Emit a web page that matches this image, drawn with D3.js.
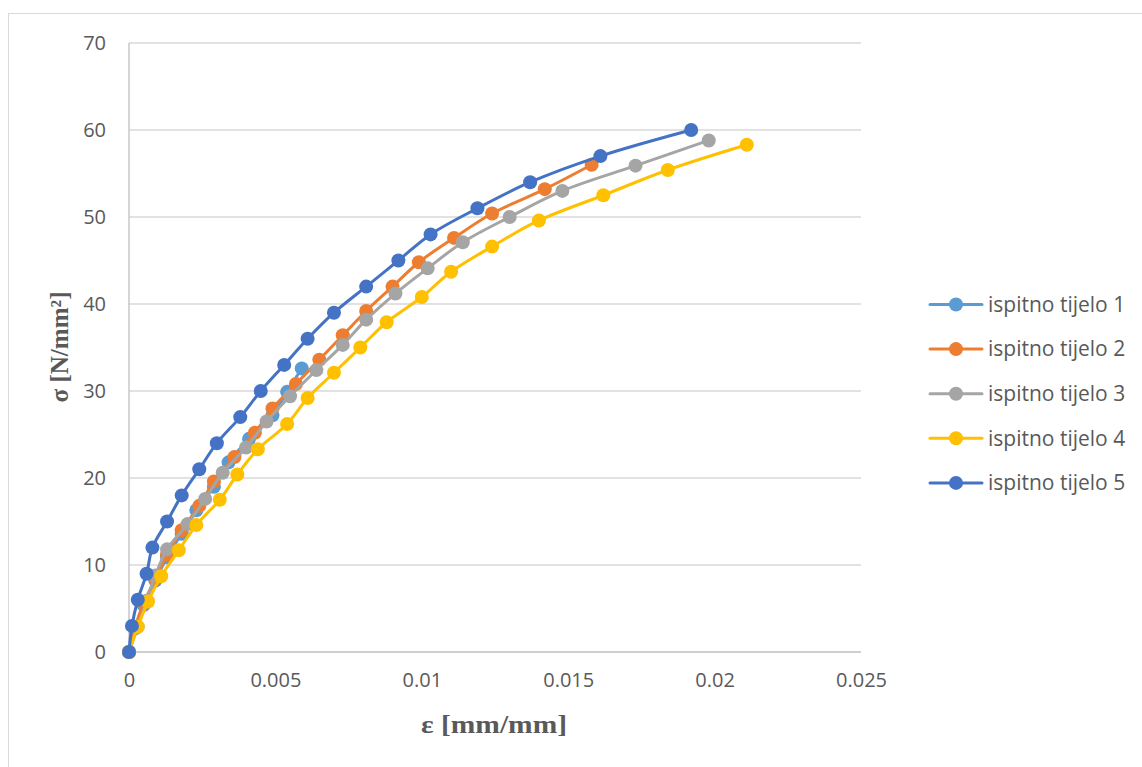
<!DOCTYPE html>
<html><head><meta charset="utf-8">
<script src="https://cdn.jsdelivr.net/npm/d3@7"></script>
<style>body{margin:0;background:#fff;} svg{display:block;}</style>
</head><body>
<svg id="chart" width="1142" height="767"></svg>
<script>
const seriesNames = ["ispitno tijelo 1","ispitno tijelo 2","ispitno tijelo 3","ispitno tijelo 4","ispitno tijelo 5"];
const seriesColors = ["#5B9BD5","#ED7D31","#A5A5A5","#FFC000","#4472C4"];

const strain1 = [0,0.0002,0.0005,0.0009,0.0013,0.0018,0.0023,0.0029,0.0034,0.0041,0.0049,0.0054,0.0059];
const stress1 = [0,2.7,5.4,8.2,10.9,13.6,16.3,19.0,21.8,24.5,27.2,29.9,32.6];

const strain2 = [0,0.0002,0.0005,0.0009,0.0013,0.0018,0.0024,0.0029,0.0036,0.0043,0.0049,0.0057,0.0065,0.0073,0.0081,0.009,0.0099,0.0111,0.0124,0.0142,0.0158];
const stress2 = [0,2.8,5.6,8.4,11.2,14.0,16.8,19.6,22.4,25.2,28.0,30.8,33.6,36.4,39.2,42.0,44.8,47.6,50.4,53.2,56.0];

const strain3 = [0,0.0003,0.0006,0.0009,0.0013,0.002,0.0026,0.0032,0.004,0.0047,0.0055,0.0064,0.0073,0.0081,0.0091,0.0102,0.0114,0.013,0.0148,0.0173,0.0198];
const stress3 = [0,2.9,5.9,8.8,11.8,14.7,17.6,20.6,23.5,26.5,29.4,32.4,35.3,38.2,41.2,44.1,47.1,50.0,53.0,55.9,58.8];

const strain4 = [0,0.0003,0.00065,0.0011,0.0017,0.0023,0.0031,0.0037,0.0044,0.0054,0.0061,0.007,0.0079,0.0088,0.01,0.011,0.0124,0.014,0.0162,0.0184,0.0211];
const stress4 = [0,2.9,5.8,8.7,11.7,14.6,17.5,20.4,23.3,26.2,29.2,32.1,35.0,37.9,40.8,43.7,46.6,49.6,52.5,55.4,58.3];

const strain5 = [0,0.0001,0.0003,0.0006,0.0008,0.0013,0.0018,0.0024,0.003,0.0038,0.0045,0.0053,0.0061,0.007,0.0081,0.0092,0.0103,0.0119,0.0137,0.0161,0.0192];
const stress5 = [0,3,6,9,12,15,18,21,24,27,30,33,36,39,42,45,48,51,54,57,60];

const xTicks = [0,0.005,0.01,0.015,0.02,0.025];
const xTickLabels = ["0","0.005","0.01","0.015","0.02","0.025"];
const yTicks = [0,10,20,30,40,50,60,70];

const strains = [strain1,strain2,strain3,strain4,strain5];
const stresses = [stress1,stress2,stress3,stress4,stress5];
const series = seriesNames.map((n,i)=>({name:n,color:seriesColors[i],
  pts: strains[i].map((e,j)=>({x:e,y:stresses[i][j]}))}));

const svg = d3.select("#chart");
const x = d3.scaleLinear().domain([0,0.025]).range([129,861]);
const y = d3.scaleLinear().domain([0,70]).range([652,43]);

// chart border
svg.append("rect").attr("x",8.5).attr("y",13.5).attr("width",1200).attr("height",800)
  .attr("fill","none").attr("stroke","#d9d9d9").attr("stroke-width",1);

// gridlines
svg.append("g").selectAll("line").data(yTicks.filter(t=>t>0)).join("line")
  .attr("x1",x(0)).attr("x2",x(0.025)).attr("y1",d=>y(d)).attr("y2",d=>y(d))
  .attr("stroke","#d9d9d9").attr("stroke-width",1.3);

// axes lines
svg.append("line").attr("x1",x(0)).attr("x2",x(0.025)).attr("y1",y(0)).attr("y2",y(0))
  .attr("stroke","#bfbfbf").attr("stroke-width",1.3);
svg.append("line").attr("x1",x(0)).attr("x2",x(0)).attr("y1",y(0)).attr("y2",y(70))
  .attr("stroke","#bfbfbf").attr("stroke-width",1.3);

const tickFont = "'Open Sans', Calibri, sans-serif";
// y tick labels
const yAxis = d3.axisLeft(y).tickValues(yTicks).tickSize(0).tickPadding(23);
const gy = svg.append("g").attr("transform",`translate(${x(0)},0)`).call(yAxis);
gy.select(".domain").remove();
gy.selectAll("text").attr("font-family",tickFont).attr("font-size",20).attr("fill","#595959");

// x tick labels
const xAxis = d3.axisBottom(x).tickValues(xTicks).tickFormat((d,i)=>xTickLabels[i]).tickSize(0).tickPadding(21);
const gx = svg.append("g").attr("transform",`translate(0,${y(0)})`).call(xAxis);
gx.select(".domain").remove();
gx.selectAll("text").attr("font-family",tickFont).attr("font-size",20).attr("fill","#595959");

// axis titles
svg.append("text").attr("x",494).attr("y",733).attr("text-anchor","middle")
  .attr("font-family","'Liberation Serif','Times New Roman',serif").attr("font-weight","bold")
  .attr("font-size",25).attr("fill","#595959")
  .attr("textLength",146).attr("lengthAdjust","spacingAndGlyphs").text("ε [mm/mm]");
svg.append("text").attr("transform","translate(68,347) rotate(-90)").attr("text-anchor","middle")
  .attr("font-family","'Liberation Serif','Times New Roman',serif").attr("font-weight","bold")
  .attr("font-size",25).attr("fill","#595959")
  .attr("textLength",111).attr("lengthAdjust","spacingAndGlyphs").text("σ [N/mm²]");

// series
const line = d3.line().x(d=>x(d.x)).y(d=>y(d.y)).curve(d3.curveCatmullRom.alpha(0.5));
const gs = svg.append("g");
series.forEach(s=>{
  const g = gs.append("g");
  g.append("path").datum(s.pts).attr("d",line).attr("fill","none")
    .attr("stroke",s.color).attr("stroke-width",3).attr("stroke-linejoin","round");
  g.selectAll("circle").data(s.pts).join("circle")
    .attr("cx",d=>x(d.x)).attr("cy",d=>y(d.y)).attr("r",7).attr("fill",s.color);
});

// legend
const leg = svg.append("g");
series.forEach((s,i)=>{
  const ly = 304.5 + i*44.6;
  leg.append("line").attr("x1",930).attr("x2",982).attr("y1",ly).attr("y2",ly)
    .attr("stroke",s.color).attr("stroke-width",3).attr("stroke-linecap","round");
  leg.append("circle").attr("cx",956).attr("cy",ly).attr("r",7).attr("fill",s.color);
  leg.append("text").attr("x",988).attr("y",ly).attr("dy","0.35em")
    .attr("font-family",tickFont).attr("font-size",21).attr("fill","#595959")
    .text(s.name);
});
</script>
</body></html>
